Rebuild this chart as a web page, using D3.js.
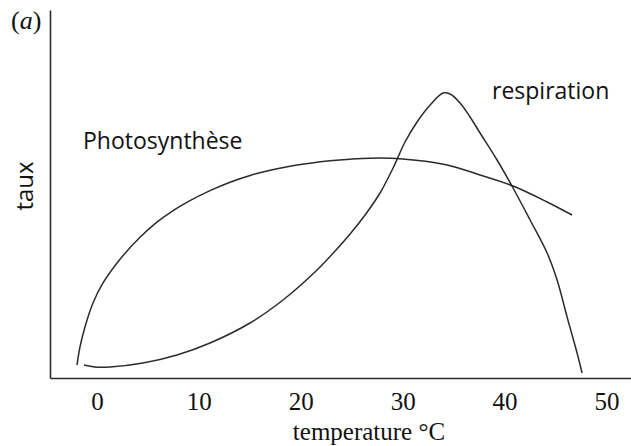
<!DOCTYPE html>
<html>
<head>
<meta charset="utf-8">
<script src="https://cdn.jsdelivr.net/npm/d3@7"></script>
<style>
  html, body { margin: 0; padding: 0; background: #fff; }
  svg { display: block; }
</style>
</head>
<body>
<svg id="chart" width="631" height="446"></svg>
<script>
// Temperature ticks shown on the x axis (°C)
const xTicks = [0, 10, 20, 30, 40, 50];

// Photosynthesis rate vs temperature (arbitrary units)
const photoTemp = [-1.95, -1.66, -1.17, -0.38, 0.6, 2.27, 4.23, 5.8, 7.37, 9.04, 11.1, 13.06, 15.03, 17.0, 18.94, 20.9, 22.87, 24.83, 26.79, 29.73, 34.36, 37.59, 40.83, 44.17, 46.62];
const photoRate = [3.53, 8.42, 13.86, 20.38, 25.82, 32.28, 38.26, 42.17, 45.3, 48.07, 50.92, 53.21, 55.05, 56.47, 57.55, 58.37, 59.02, 59.46, 59.73, 59.6, 57.88, 55.16, 52.17, 47.83, 44.29];

// Respiration rate vs temperature (arbitrary units)
const respTemp = [-1.27, -0.19, 1.28, 4.52, 7.86, 11.1, 15.02, 18.26, 21.6, 23.37, 24.84, 26.31, 27.78, 29.06, 30.23, 31.41, 32.69, 33.96, 34.65, 35.63, 36.61, 37.59, 39.26, 40.83, 42.5, 44.17, 45.15, 46.13, 47.11, 47.6];
const respRate = [3.53, 2.99, 2.99, 4.08, 6.25, 9.51, 14.95, 21.2, 29.35, 34.51, 39.13, 44.29, 50.27, 57.07, 64.13, 69.57, 74.18, 77.45, 77.17, 74.73, 70.92, 66.58, 59.24, 51.63, 42.93, 33.97, 26.63, 16.58, 6.79, 1.36];

const svg = d3.select("#chart");
const plotLeft = 50, plotRight = 631, plotTop = 10, plotBottom = 378;

const x = d3.scaleLinear().domain([-4.6, 52.4]).range([plotLeft, plotRight]);
const y = d3.scaleLinear().domain([0, 100]).range([plotBottom, plotTop]);

const ink = "#2b2b2b";
const serif = "'Liberation Serif', 'Times New Roman', serif";
const sans = "'Open Sans', 'Noto Sans', sans-serif";

// Axis frame: left and bottom lines only
const xAxis = d3.axisBottom(x).tickValues(xTicks).tickSize(0).tickPadding(14).tickFormat(d3.format("d"));
const gx = svg.append("g").attr("transform", `translate(0,${plotBottom})`).call(xAxis);
gx.select(".domain").attr("stroke", ink).attr("stroke-width", 1.6);
gx.selectAll("text")
  .attr("font-family", serif)
  .attr("font-size", 25)
  .attr("fill", "#111");

const yAxis = d3.axisLeft(y).tickValues([]).tickSize(0);
const gy = svg.append("g").attr("transform", `translate(${plotLeft},0)`).call(yAxis);
gy.select(".domain").attr("stroke", ink).attr("stroke-width", 1.6);

// Curves
const line = d3.line().x(d => x(d[0])).y(d => y(d[1])).curve(d3.curveCatmullRom.alpha(0.5));
const photo = photoTemp.map((t, i) => [t, photoRate[i]]);
const resp = respTemp.map((t, i) => [t, respRate[i]]);

svg.append("path").datum(photo).attr("d", line)
  .attr("fill", "none").attr("stroke", ink).attr("stroke-width", 1.5);
svg.append("path").datum(resp).attr("d", line)
  .attr("fill", "none").attr("stroke", ink).attr("stroke-width", 1.5);

// Labels
svg.append("text").attr("x", 83).attr("y", 149)
  .attr("font-family", sans).attr("font-size", 23).attr("fill", "#111")
  .text("Photosynthèse");
svg.append("text").attr("x", 492).attr("y", 99)
  .attr("font-family", sans).attr("font-size", 23).attr("fill", "#111")
  .text("respiration");

svg.append("text")
  .attr("transform", "translate(33,186) rotate(-90)")
  .attr("text-anchor", "middle")
  .attr("font-family", sans).attr("font-size", 24).attr("fill", "#111")
  .text("taux");

svg.append("text").attr("x", 369).attr("y", 440).attr("text-anchor", "middle")
  .attr("font-family", serif)
  .attr("font-size", 25).attr("fill", "#111")
  .text("temperature °C");

const tag = svg.append("text").attr("x", 11).attr("y", 29)
  .attr("font-family", serif)
  .attr("font-size", 26).attr("fill", "#111");
tag.append("tspan").text("(");
tag.append("tspan").attr("font-style", "italic").text("a");
tag.append("tspan").text(")");
</script>
</body>
</html>
